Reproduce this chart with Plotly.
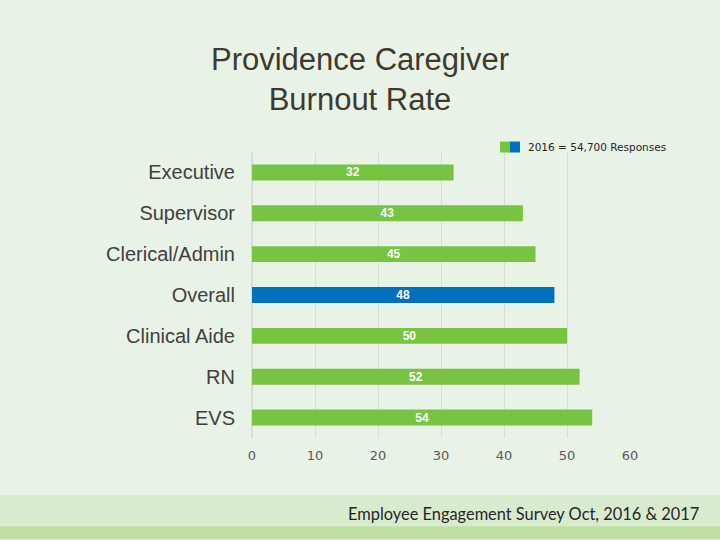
import plotly.graph_objects as go

categorias = ["Executive", "Supervisor", "Clerical/Admin", "Overall", "Clinical Aide", "RN", "EVS"]
valores = [32, 43, 45, 48, 50, 52, 54]
cores = ["#76C442", "#76C442", "#76C442", "#0070C0", "#76C442", "#76C442", "#76C442"]
ticks_x = [0, 10, 20, 30, 40, 50, 60]

# area do grafico em pixels: x 252..630, y 151.5..438.5
ML, MR, MT, MB = 252, 90, 151.5, 101.5
PW, PH = 720 - ML - MR, 540 - MT - MB


def px(x):
    return (x - ML) / PW


def py(y):
    return (540 - y - MB) / PH


fig = go.Figure()

fig.add_trace(
    go.Bar(
        y=categorias,
        x=valores,
        orientation="h",
        marker=dict(color=cores, line=dict(width=0)),
        width=0.39,
        text=valores,
        texttemplate="<b>%{x}</b>",
        textposition="inside",
        textangle=0,
        insidetextanchor="middle",
        constraintext="none",
        textfont=dict(family="Arial", size=12, color="white"),
        showlegend=False,
        hoverinfo="skip",
    )
)

# faixas do rodape
fig.add_shape(type="rect", xref="paper", yref="paper", x0=-1, x1=2,
              y0=py(540), y1=py(496),
              fillcolor="#D9EBCF", line=dict(width=0), layer="below")
fig.add_shape(type="rect", xref="paper", yref="paper", x0=-1, x1=2,
              y0=py(540), y1=py(527),
              fillcolor="#BFDFA6", line=dict(width=0), layer="below")

# legenda
fig.add_shape(type="rect", xref="paper", yref="paper",
              x0=px(500), x1=px(510), y0=py(152), y1=py(141),
              fillcolor="#76C442", line=dict(width=0))
fig.add_shape(type="rect", xref="paper", yref="paper",
              x0=px(510), x1=px(520), y0=py(152), y1=py(141),
              fillcolor="#0070C0", line=dict(width=0))
fig.add_annotation(text="2016 = 54,700 Responses", xref="paper", yref="paper",
                   x=px(526), y=py(146.5),
                   xanchor="left", yanchor="middle", showarrow=False,
                   font=dict(family="DejaVu Sans", size=10.5, color="#262626"))

fig.add_annotation(text="Employee Engagement Survey Oct, 2016 & 2017", xref="paper", yref="paper",
                   x=px(701), y=py(514),
                   xanchor="right", yanchor="middle", showarrow=False,
                   font=dict(family="Lato", size=16.4, color="#262626"))

fig.update_layout(
    width=720,
    height=540,
    margin=dict(l=ML, r=MR, t=MT, b=MB),
    paper_bgcolor="#E9F2E6",
    plot_bgcolor="#E9F2E6",
    title=dict(
        text="Providence Caregiver<br>Burnout Rate",
        x=0.5,
        xanchor="center",
        y=1 - 70 / 540,
        yanchor="middle",
        font=dict(family="Arial", size=31, color="#3F3A2E"),
    ),
)

fig.update_xaxes(
    range=[0, 60],
    tickvals=ticks_x,
    showgrid=True,
    gridcolor="#D9DCD6",
    gridwidth=1,
    zeroline=True,
    zerolinecolor="#D9DCD6",
    showline=False,
    tickfont=dict(family="DejaVu Sans", size=13, color="#595959"),
    ticklabelstandoff=8,
    fixedrange=True,
)

fig.update_yaxes(
    categoryorder="array",
    categoryarray=categorias,
    autorange="reversed",
    showgrid=False,
    tickfont=dict(family="Arial", size=20, color="#404040"),
    ticklabelstandoff=16,
    fixedrange=True,
)

fig.write_html("out.html", config={"displayModeBar": False},
               post_script="document.body.style.margin='0';")
